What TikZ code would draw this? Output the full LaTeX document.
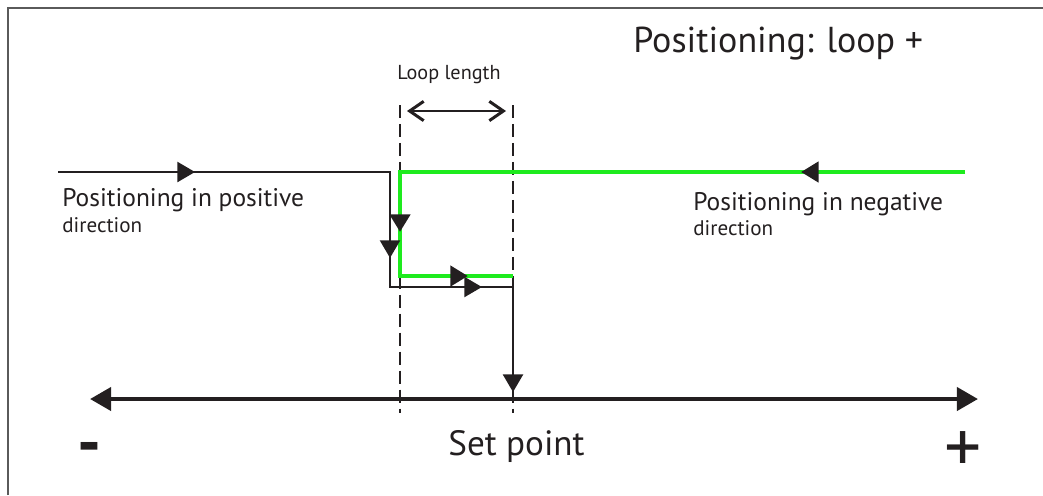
\documentclass[tikz,border=0pt]{standalone}
\usepackage{fontspec}
\setmainfont{PT Sans}
\usepackage{tikz}
\usetikzlibrary{arrows.meta, positioning, decorations.markings}
\definecolor{ink}{HTML}{231F20}
\definecolor{loopgreen}{HTML}{1EEB1E}
\definecolor{framegrey}{HTML}{5A5A5A}
\tikzset{
  midtri/.tip={Triangle[length=10pt, width=11.5pt, color=ink]},
  axistri/.tip={Triangle[length=12pt, width=13pt, color=ink]},
  posline/.style={ink, line width=0.8pt, -{midtri}},
  negline/.style={loopgreen, line width=2.3pt},
  axisline/.style={ink, line width=2.6pt, {axistri}-{axistri}},
  guide/.style={ink, line width=1.1pt, dash pattern=on 7.4pt off 3.4pt},
  looparrow/.style={ink, line width=0.8pt,
    {Straight Barb[length=8pt, width=11pt, line width=1.7pt]}-{Straight Barb[length=8pt, width=11pt, line width=1.7pt]}},
  label/.style={inner sep=0pt, anchor=base west, text=ink},
}

\begin{document}
\begin{tikzpicture}[x=0.02cm, y=-0.02cm]
\useasboundingbox (0,0) rectangle (1043,495);
\draw[framegrey, line width=0.6pt] (8,495) -- (8,8) -- (1043,8);

\coordinate (posstart) at (58,172);
\coordinate (poscorner) at (390,172);
\coordinate (posdown) at (390,287);
\coordinate (posend) at (513,287);
\coordinate (setpt) at (513,392);
\coordinate (negstart) at (965,172);
\coordinate (negcorner) at (400,172);
\coordinate (negdown) at (400,276);
\coordinate (negend) at (513,276);
\coordinate (lefttop) at (400,105);
\coordinate (leftbot) at (400,413);
\coordinate (righttop) at (513,105);
\coordinate (rightbot) at (513,413);
\coordinate (loopl) at (407,111);
\coordinate (loopr) at (506,111);
\coordinate (axl) at (90,399);
\coordinate (axr) at (978,399);

\draw[guide] (lefttop) -- (leftbot);
\draw[guide] (righttop) -- (rightbot);
\draw[looparrow] (loopl) -- (loopr);

\draw[negline, postaction={decorate, decoration={markings,
    mark=at position 3.28cm with {\arrow{midtri}},
    mark=at position 12.5cm with {\arrow{midtri}},
    mark=at position 14.74cm with {\arrow{midtri}}}}]
  (negstart) -- (negcorner) -- (negdown) -- (negend);
\draw[posline, postaction={decorate, decoration={markings,
    mark=at position 2.74cm with {\arrow{midtri}},
    mark=at position 8.36cm with {\arrow{midtri}},
    mark=at position 10.78cm with {\arrow{midtri}}}}]
  (posstart) -- (poscorner) -- (posdown) -- (posend) -- (setpt);

\draw[axisline] (axl) -- (axr);

\node[label, font=\fontsize{20.5}{24}\selectfont] (title) at (633,52) {Positioning: loop +};
\node[label, font=\fontsize{11.5}{14}\selectfont] (looplen) at (397,79) {Loop length};
\node[label, font=\fontsize{14.5}{17}\selectfont] (postext) at (62,206) {Positioning in positive};
\node[label, font=\fontsize{12}{14}\selectfont] (posdir) at (62,232) {direction};
\node[label, font=\fontsize{14.5}{17}\selectfont] (negtext) at (693,210) {Positioning in negative};
\node[label, font=\fontsize{12}{14}\selectfont] (negdir) at (693,235) {direction};
\node[label, font=\fontsize{20}{24}\selectfont] (setpoint) at (448,455) {Set point};
\node[inner sep=0pt, text=ink, font=\bfseries\fontsize{38}{44}\selectfont] (minus) at (90,454) {-};
\node[inner sep=0pt, text=ink, font=\fontsize{42}{48}\selectfont] (plus) at (963,452) {+};
\end{tikzpicture}
\end{document}
